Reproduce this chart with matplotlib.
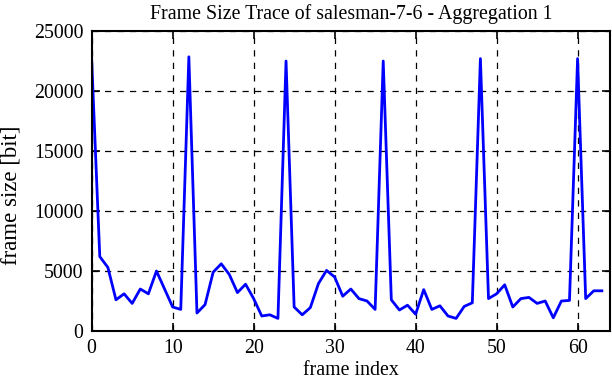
import matplotlib
matplotlib.use("Agg")
import matplotlib.pyplot as plt

# frame sizes in bit
frame_size = [
    22600, 6200, 5300, 2600, 3100, 2300, 3500, 3100, 5000, 3500,
    2000, 1800, 22850, 1500, 2200, 4900, 5600, 4700, 3200, 3900,
    2700, 1250, 1350, 1050, 22500, 2000, 1350, 1950, 3950, 5050,
    4500, 2900, 3500, 2700, 2500, 1800, 22500, 2600, 1750, 2150,
    1400, 3450, 1800, 2100, 1250, 1050, 2050, 2350, 22700, 2700,
    3100, 3850, 2000, 2700, 2800, 2300, 2500, 1100, 2500, 2550,
    22700, 2700, 3350, 3350,
]
frame_index = list(range(len(frame_size)))

x_ticks = [0, 10, 20, 30, 40, 50, 60]
y_ticks = [0, 5000, 10000, 15000, 20000, 25000]

plt.rcParams["font.family"] = ["Liberation Serif", "DejaVu Serif"]
plt.rcParams["font.size"] = 14.3

fig = plt.figure(figsize=(6.12, 3.82), dpi=100)
ax = fig.add_axes([0.1498, 0.1335, 0.8469, 0.7853])

ax.plot(frame_index, frame_size, color="#0000ff", linewidth=2)

ax.set_xlim(0, 64)
ax.set_ylim(0, 25000)
ax.set_xticks(x_ticks)
ax.set_yticks(y_ticks)
ax.grid(True, color="black", linestyle=(0, (5, 5)), linewidth=0.9)
ax.tick_params(direction="in", top=True, right=True, length=6, width=1.2, pad=6)
for spine in ax.spines.values():
    spine.set_linewidth(1.5)

ax.set_xlabel("frame index", labelpad=2)
ax.set_ylabel("frame size [bit]", fontsize=16.5)
# gnuplot puts the y label a bit below the middle, near the left edge
ax.yaxis.set_label_coords(21 / 612, 1 - 195 / 382, transform=fig.transFigure)
ax.set_title("Frame Size Trace of salesman-7-6 - Aggregation 1",
             fontsize=14.3, pad=9)

fig.savefig("out.png", dpi=100)
